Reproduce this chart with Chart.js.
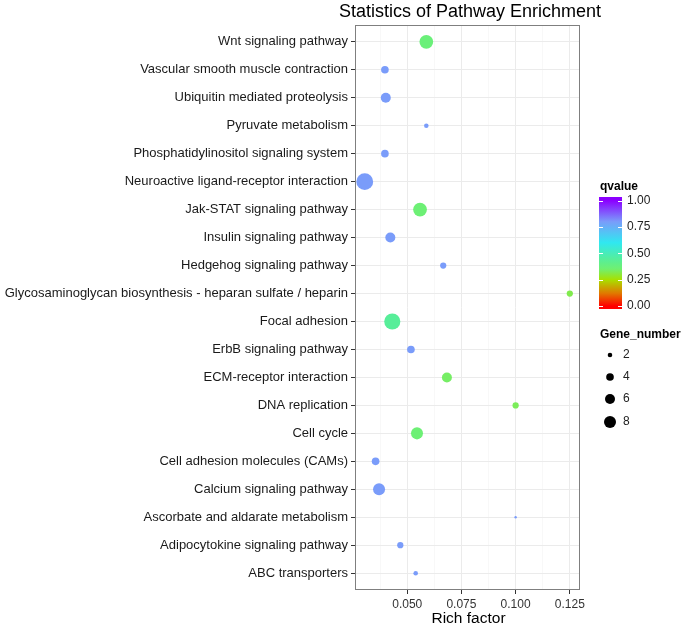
<!DOCTYPE html>
<html>
<head>
<meta charset="utf-8">
<script src="https://cdn.jsdelivr.net/npm/chart.js@4"></script>
<style>
html,body{margin:0;padding:0;background:#fff;}
#wrap{width:685px;height:627px;}
</style>
</head>
<body>
<div id="wrap"><canvas id="c" width="685" height="627"></canvas></div>
<script>
const categories = [
  'Wnt signaling pathway',
  'Vascular smooth muscle contraction',
  'Ubiquitin mediated proteolysis',
  'Pyruvate metabolism',
  'Phosphatidylinositol signaling system',
  'Neuroactive ligand-receptor interaction',
  'Jak-STAT signaling pathway',
  'Insulin signaling pathway',
  'Hedgehog signaling pathway',
  'Glycosaminoglycan biosynthesis - heparan sulfate / heparin',
  'Focal adhesion',
  'ErbB signaling pathway',
  'ECM-receptor interaction',
  'DNA replication',
  'Cell cycle',
  'Cell adhesion molecules (CAMs)',
  'Calcium signaling pathway',
  'Ascorbate and aldarate metabolism',
  'Adipocytokine signaling pathway',
  'ABC transporters'
];
const richFactor = [0.0588, 0.0397, 0.0401, 0.0588, 0.0397, 0.0304, 0.0559, 0.0422, 0.0666, 0.1250,
                    0.0431, 0.0517, 0.0683, 0.1000, 0.0545, 0.0354, 0.0370, 0.1000, 0.0468, 0.0539];
const geneNumber = [10, 4, 6, 2, 4, 14, 10, 6, 3, 3, 13, 4, 6, 3, 8, 4, 8, 1, 3, 2];
const qvalue = [0.37, 0.80, 0.80, 0.80, 0.80, 0.80, 0.36, 0.80, 0.80, 0.32,
                0.44, 0.80, 0.34, 0.33, 0.36, 0.80, 0.80, 0.80, 0.80, 0.80];
const xTicks = [0.05, 0.075, 0.1, 0.125];
const xMinorTicks = [0.0375, 0.0625, 0.0875, 0.1125];
const qTicks = [0, 0.25, 0.5, 0.75, 1];
const sizeBreaks = [2, 4, 6, 8];

const colorStops = [
  [0.00, [255, 0, 0]],
  [0.12, [225, 120, 0]],
  [0.25, [168, 224, 0]],
  [0.35, [112, 240, 112]],
  [0.45, [84, 238, 158]],
  [0.60, [48, 232, 240]],
  [0.80, [122, 156, 250]],
  [1.00, [139, 0, 255]]
];
function qColor(v) {
  for (let i = 1; i < colorStops.length; i++) {
    if (v <= colorStops[i][0]) {
      const [a, ca] = colorStops[i - 1], [b, cb] = colorStops[i];
      const t = (v - a) / (b - a);
      const c = ca.map((x, k) => Math.round(x + (cb[k] - x) * t));
      return `rgb(${c[0]},${c[1]},${c[2]})`;
    }
  }
  const c = colorStops[colorStops.length - 1][1];
  return `rgb(${c[0]},${c[1]},${c[2]})`;
}
function radius(n) { return Math.max(1, 2.63 * Math.sqrt(n) - 1.43); }

const FONT = "'Liberation Sans', Arial, Helvetica, sans-serif";

const decor = {
  id: 'decor',
  afterDraw(chart) {
    const ctx = chart.ctx;
    const a = chart.chartArea;
    ctx.save();
    // panel border
    ctx.strokeStyle = '#7F7F7F';
    ctx.lineWidth = 1;
    ctx.strokeRect(Math.round(a.left) + 0.5, Math.round(a.top) + 0.5, Math.round(a.right - a.left) - 1, Math.round(a.bottom - a.top) - 1);
    // title
    ctx.fillStyle = '#000';
    ctx.textAlign = 'center';
    ctx.textBaseline = 'middle';
    ctx.font = `18px ${FONT}`;
    ctx.fillText('Statistics of Pathway Enrichment', 470, 12);
    // x title
    ctx.font = `15.5px ${FONT}`;
    ctx.fillText('Rich factor', (a.left + a.right) / 2 + 1, 619);

    // qvalue legend
    ctx.textAlign = 'left';
    ctx.font = `bold 12px ${FONT}`;
    ctx.fillText('qvalue', 600, 187);
    const bx = 599, bw = 23, by0 = 309, by1 = 197;
    const v2y = v => 306 - v * 105.5;
    const g = ctx.createLinearGradient(0, v2y(0), 0, v2y(1));
    colorStops.forEach(([s, c]) => g.addColorStop(s, `rgb(${c[0]},${c[1]},${c[2]})`));
    ctx.fillStyle = g;
    ctx.fillRect(bx, by1, bw, by0 - by1);
    ctx.strokeStyle = '#fff';
    ctx.lineWidth = 1;
    ctx.font = `12px ${FONT}`;
    qTicks.forEach(v => {
      const y = Math.round(v2y(v)) + 0.5;
      ctx.beginPath();
      ctx.moveTo(bx, y); ctx.lineTo(bx + 4, y);
      ctx.moveTo(bx + bw - 4, y); ctx.lineTo(bx + bw, y);
      ctx.stroke();
      ctx.fillStyle = '#222';
      ctx.fillText(v.toFixed(2), 627, v2y(v));
    });

    // Gene_number legend
    ctx.fillStyle = '#000';
    ctx.font = `bold 12px ${FONT}`;
    ctx.fillText('Gene_number', 600, 335);
    const ys = [355, 377, 399, 422];
    ctx.font = `12px ${FONT}`;
    sizeBreaks.forEach((n, i) => {
      ctx.fillStyle = '#000';
      ctx.beginPath();
      ctx.arc(610, ys[i], radius(n), 0, Math.PI * 2);
      ctx.fill();
      ctx.fillStyle = '#222';
      ctx.fillText(String(n), 623, ys[i]);
    });
    ctx.restore();
  }
};

const pts = categories.map((c, i) => ({ x: richFactor[i], y: i }));

new Chart(document.getElementById('c'), {
  type: 'scatter',
  data: {
    datasets: [{
      data: pts,
      pointRadius: ctx => radius(geneNumber[ctx.dataIndex]),
      pointHoverRadius: ctx => radius(geneNumber[ctx.dataIndex]),
      backgroundColor: ctx => qColor(qvalue[ctx.dataIndex]),
      borderWidth: 0,
      clip: false
    }]
  },
  options: {
    responsive: false,
    devicePixelRatio: 1,
    animation: false,
    events: [],
    layout: { padding: { left: 0, right: 105, top: 25, bottom: 0 } },
    plugins: { legend: { display: false }, tooltip: { enabled: false }, title: { display: false } },
    scales: {
      x: {
        type: 'linear',
        min: 0.0259,
        max: 0.1297,
        afterBuildTicks: s => {
          s.ticks = [...xMinorTicks, ...xTicks].sort((a, b) => a - b).map(v => ({ value: v }));
        },
        afterFit: s => { s.height = 37; },
        ticks: {
          autoSkip: false,
          maxRotation: 0,
          padding: 3,
          color: '#333',
          font: { family: FONT, size: 12 },
          callback: v => xTicks.some(t => Math.abs(t - v) < 1e-9) ? v.toFixed(3) : ''
        },
        grid: {
          color: ctx => (ctx.tick && xMinorTicks.some(t => Math.abs(t - ctx.tick.value) < 1e-9)) ? '#F4F4F4' : '#EBEBEB',
          lineWidth: ctx => (ctx.tick && xMinorTicks.some(t => Math.abs(t - ctx.tick.value) < 1e-9)) ? 0.6 : 1,
          tickColor: ctx => (ctx.tick && xMinorTicks.some(t => Math.abs(t - ctx.tick.value) < 1e-9)) ? 'rgba(0,0,0,0)' : '#333',
          tickLength: 4,
          tickWidth: 1
        },
        border: { display: false }
      },
      y: {
        type: 'linear',
        reverse: true,
        min: -0.6,
        max: 19.6,
        afterBuildTicks: s => { s.ticks = categories.map((c, i) => ({ value: i })); },
        afterFit: s => { s.width = 355; },
        ticks: {
          autoSkip: false,
          padding: 3,
          color: '#1a1a1a',
          font: { family: FONT, size: 13 },
          callback: v => categories[Math.round(v)]
        },
        grid: {
          color: '#EBEBEB',
          lineWidth: 1,
          tickColor: '#333',
          tickLength: 4,
          tickWidth: 1
        },
        border: { display: false }
      }
    }
  },
  plugins: [decor]
});
</script>
</body>
</html>
